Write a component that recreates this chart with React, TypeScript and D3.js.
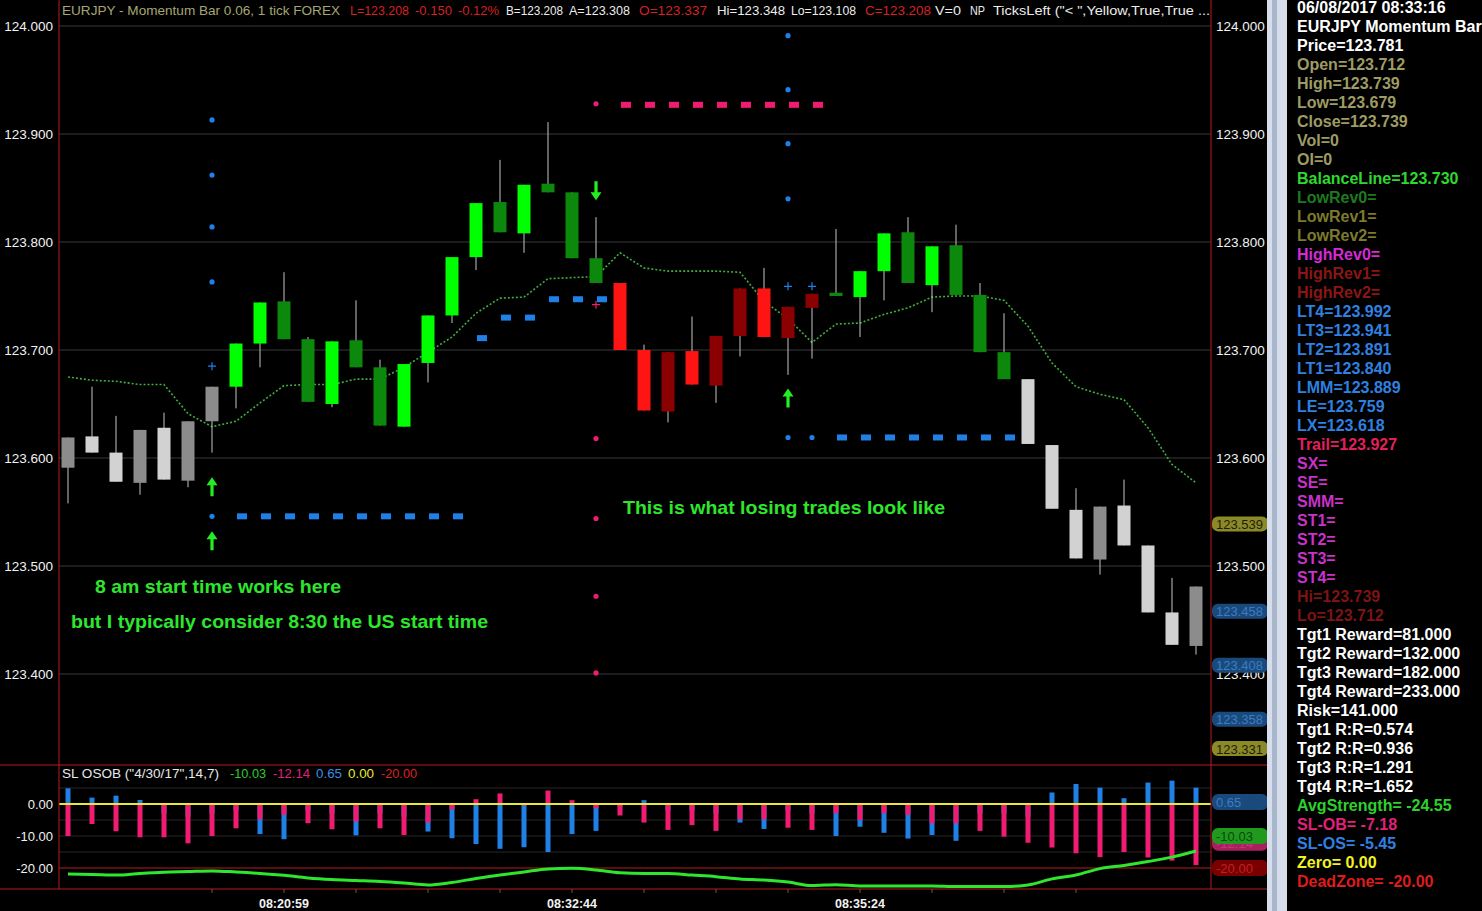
import React from "react";
import * as d3 from "d3";

// ---------------- data ----------------
const candleOpen = [123.591, 123.620, 123.605, 123.577, 123.628, 123.579, 123.634, 123.666, 123.706, 123.745, 123.710, 123.650, 123.709, 123.684, 123.629, 123.688, 123.732, 123.786, 123.837, 123.808, 123.854, 123.846, 123.785, 123.762, 123.700, 123.643, 123.699, 123.667, 123.713, 123.757, 123.711, 123.739, 123.753, 123.749, 123.773, 123.809, 123.760, 123.797, 123.751, 123.698, 123.673, 123.612, 123.552, 123.506, 123.556, 123.519, 123.457, 123.426];
const candleHigh = [123.619, 123.666, 123.639, 123.626, 123.642, 123.634, 123.666, 123.706, 123.744, 123.772, 123.712, 123.708, 123.746, 123.691, 123.687, 123.732, 123.786, 123.836, 123.876, 123.853, 123.911, 123.846, 123.823, 123.762, 123.705, 123.698, 123.731, 123.713, 123.757, 123.776, 123.740, 123.752, 123.812, 123.773, 123.808, 123.823, 123.796, 123.816, 123.762, 123.734, 123.673, 123.612, 123.572, 123.555, 123.580, 123.519, 123.489, 123.481];
const candleLow = [123.558, 123.605, 123.578, 123.566, 123.580, 123.573, 123.605, 123.646, 123.684, 123.710, 123.652, 123.647, 123.684, 123.630, 123.629, 123.670, 123.725, 123.774, 123.809, 123.790, 123.846, 123.785, 123.762, 123.700, 123.644, 123.633, 123.668, 123.651, 123.694, 123.712, 123.677, 123.692, 123.750, 123.712, 123.746, 123.762, 123.735, 123.751, 123.698, 123.673, 123.613, 123.553, 123.507, 123.492, 123.519, 123.457, 123.427, 123.418];
const candleClose = [123.619, 123.605, 123.578, 123.626, 123.580, 123.634, 123.666, 123.706, 123.744, 123.710, 123.652, 123.708, 123.684, 123.630, 123.687, 123.732, 123.786, 123.836, 123.809, 123.853, 123.846, 123.785, 123.762, 123.700, 123.644, 123.698, 123.668, 123.713, 123.757, 123.712, 123.740, 123.752, 123.750, 123.773, 123.808, 123.762, 123.796, 123.751, 123.698, 123.673, 123.613, 123.553, 123.507, 123.555, 123.519, 123.457, 123.427, 123.481];
const candleTrend = ["gray", "gray", "gray", "gray", "gray", "gray", "gray", "green", "green", "green", "green", "green", "green", "green", "green", "green", "green", "green", "green", "green", "green", "green", "green", "red", "red", "red", "red", "red", "red", "red", "red", "red", "green", "green", "green", "green", "green", "green", "green", "green", "gray", "gray", "gray", "gray", "gray", "gray", "gray", "gray"];

const balanceLine = [123.675, 123.672, 123.671, 123.668, 123.668, 123.641, 123.629, 123.634, 123.651, 123.667, 123.668, 123.668, 123.673, 123.673, 123.684, 123.698, 123.712, 123.734, 123.748, 123.749, 123.766, 123.767, 123.768, 123.790, 123.776, 123.773, 123.773, 123.773, 123.772, 123.745, 123.729, 123.707, 123.724, 123.725, 123.733, 123.739, 123.749, 123.750, 123.750, 123.746, 123.722, 123.688, 123.666, 123.659, 123.654, 123.628, 123.594, 123.577];

const slOB = [-10.0, -6.25, -8.5, -10.4, -10.4, -12.3, -10.0, -7.6, -4.8, -3.4, -6.0, -7.9, -5.5, -7.6, -9.7, -5.8, -1.7, 1.5, 3.3, -0.5, 4.2, 1.2, -1.3, -3.6, -5.8, -8.1, -6.6, -8.4, -4.8, -4.8, -7.4, -8.1, -2.9, -5.0, -2.9, -3.4, -6.0, -6.0, -8.4, -10.2, -12.1, -13.6, -15.4, -16.6, -15.0, -16.7, -17.7, -19.1];
const slOS = [4.9, 2.0, 2.6, 1.25, -3, -4, -3, -2, -9.4, -11.0, -2, -3, -9.8, -3, -4, -8.6, -10.7, -12.5, -14.0, -13.5, -15.0, -9.4, -8.4, -1, 1.2, -2, -2, -3, -5.8, -7.8, -2, -3, -10.0, -7.1, -9.0, -10.8, -9.7, -11.5, -3, -3, -4, 3.6, 6.25, 5.1, 1.8, 6.7, 7.3, 5.1];
const avgStrength = [-21.9, -22.0, -22.2, -21.7, -21.3, -21.1, -20.9, -21.25, -21.7, -22.3, -23.1, -23.6, -23.9, -24.2, -24.7, -25.3, -24.5, -23.3, -22.2, -21.25, -20.3, -20.1, -20.6, -21.5, -21.7, -21.7, -22.2, -22.7, -23.4, -23.75, -24.4, -25.5, -25.2, -25.6, -25.6, -25.6, -25.6, -25.8, -25.8, -25.8, -25.3, -23.4, -22.2, -20.2, -19.2, -18.0, -16.6, -14.7];

const priceTicks = [124.0, 123.9, 123.8, 123.7, 123.6, 123.5, 123.4];
const oscTicks = [0, -10, -20];
const oscGrid = [5, -5, -10, -15];
const timeTickIdx = [6, 9, 12, 15, 18, 21, 24, 27, 30, 33, 36, 39, 42];
const timeLabelIdx = [9, 21, 33];
const timeLabels = ["08:20:59", "08:32:44", "08:35:24"];

const longTargetIdx = [6, 6, 6, 6, 30, 30, 30, 30];
const longTargetPrice = [123.913, 123.862, 123.814, 123.763, 123.991, 123.941, 123.891, 123.840];
const longEntryIdx = [6, 30, 31];
const longEntryPrice = [123.685, 123.759, 123.759];
const longStopDotIdx = [6, 30, 31];
const longStopDotPrice = [123.546, 123.619, 123.619];
const longStopDashIdx = [7, 8, 9, 10, 11, 12, 13, 14, 15, 16, 17, 18, 19, 20, 21, 22, 32, 33, 34, 35, 36, 37, 38, 39];
const longStopDashPrice = [123.546, 123.546, 123.546, 123.546, 123.546, 123.546, 123.546, 123.546, 123.546, 123.546, 123.711, 123.730, 123.730, 123.747, 123.747, 123.747, 123.619, 123.619, 123.619, 123.619, 123.619, 123.619, 123.619, 123.619];
const shortDotIdx = [22, 22, 22, 22, 22];
const shortDotPrice = [123.928, 123.618, 123.544, 123.472, 123.401];
const shortEntryIdx = [22];
const shortEntryPrice = [123.742];
const shortTrailIdx = [23, 24, 25, 26, 27, 28, 29, 30, 31];
const shortTrailPrice = [123.927, 123.927, 123.927, 123.927, 123.927, 123.927, 123.927, 123.927, 123.927];
const upArrowIdx = [6, 6, 30];
const upArrowPrice = [123.573, 123.523, 123.655];
const downArrowIdx = [22];
const downArrowPrice = [123.848];

const noteText = ["8 am start time works here", "but I typically consider 8:30 the US start time", "This is what losing trades look like"];
const noteIdx = [1.125, 0.125, 23.125];
const notePrice = [123.475, 123.443, 123.548];
const noteWidth = [246, 417, 322];

const priceTagValue = [123.539, 123.458, 123.408, 123.358, 123.331];
const priceTagKind = ["olive", "blue", "blue", "blue", "olive"];
const oscTagValue = [0.65, -12.14, -10.03, -20.0];
const oscTagKind = ["blue", "pink", "green", "red"];

const headerText = ["EURJPY - Momentum Bar 0.06, 1 tick  FOREX", "L=123.208", "-0.150", "-0.12%", "B=123.208", "A=123.308", "O=123.337", "Hi=123.348", "Lo=123.108", "C=123.208", "V=0", "NP", "TicksLeft (\"< \",Yellow,True,True ..."];
const headerX = [62, 350, 415, 458, 506, 569, 639, 717, 791, 865, 935, 970, 993];
const headerW = [278, 59, 37, 41, 57, 61, 68, 68, 65, 66, 26, 15, 217];
const headerColor = ["#a6a672", "#d42222", "#d42222", "#d42222", "#ececec", "#ececec", "#d42222", "#ececec", "#ececec", "#d42222", "#ececec", "#ececec", "#ececec"];

const oscTitle = ["SL  OSOB (\"4/30/17\",14,7)", "-10.03", "-12.14", "0.65", "0.00", "-20.00"];
const oscTitleX = [62, 230, 273, 316, 348, 381];
const oscTitleW = [157, 36, 37, 26, 26, 36];
const oscTitleColor = ["#e8e8e8", "#2ecc2e", "#e0207a", "#3a8ee0", "#e8e830", "#dd2020"];

const infoText = [
  "06/08/2017 08:33:16", "EURJPY Momentum Bar", "Price=123.781", "Open=123.712", "High=123.739", "Low=123.679", "Close=123.739", "Vol=0", "OI=0",
  "BalanceLine=123.730", "LowRev0=", "LowRev1=", "LowRev2=", "HighRev0=", "HighRev1=", "HighRev2=",
  "LT4=123.992", "LT3=123.941", "LT2=123.891", "LT1=123.840", "LMM=123.889", "LE=123.759", "LX=123.618", "Trail=123.927",
  "SX=", "SE=", "SMM=", "ST1=", "ST2=", "ST3=", "ST4=", "Hi=123.739", "Lo=123.712",
  "Tgt1 Reward=81.000", "Tgt2 Reward=132.000", "Tgt3 Reward=182.000", "Tgt4 Reward=233.000", "Risk=141.000",
  "Tgt1 R:R=0.574", "Tgt2 R:R=0.936", "Tgt3 R:R=1.291", "Tgt4 R:R=1.652",
  "AvgStrength= -24.55", "SL-OB= -7.18", "SL-OS= -5.45", "Zero= 0.00", "DeadZone= -20.00",
];
const infoColor = [
  "#ffffff", "#ffffff", "#ffffff", "#9e9c64", "#9e9c64", "#9e9c64", "#9e9c64", "#9e9c64", "#9e9c64",
  "#2ed82e", "#1f7a1f", "#7e7a2c", "#7e7a2c", "#d62ad6", "#8a1616", "#8a1616",
  "#2f80e0", "#2f80e0", "#2f80e0", "#2f80e0", "#2f80e0", "#2f80e0", "#2f80e0", "#e0205a",
  "#c832c8", "#c832c8", "#c832c8", "#c832c8", "#c832c8", "#c832c8", "#c832c8", "#7c1414", "#7c1414",
  "#ffffff", "#ffffff", "#ffffff", "#ffffff", "#ffffff",
  "#ffffff", "#ffffff", "#ffffff", "#ffffff",
  "#2ed02e", "#e0207a", "#2f80e0", "#f2f222", "#dd1c1c",
];

// ---------------- styles ----------------
const FONT = "'Liberation Sans', Arial, sans-serif";
const RED = "#b81a1a";
const BLUE = "#1f80e8";
const PINK = "#f01c72";
const ARROW = "#22ee22";
const candleColors: Record<string, [string, string]> = {
  gray: ["#8c8c8c", "#d2d2d2"],
  green: ["#00ff00", "#0c880c"],
  red: ["#8b0000", "#ff1414"],
};
const tagColors: Record<string, [string, string]> = {
  olive: ["#8c8a28", "#1e1e08"],
  blue: ["#1a4a7c", "#3b7cc4"],
  green: ["#1f9a1f", "#0a4a0a"],
  pink: ["#a8205f", "#c83080"],
  red: ["#7a0000", "#c02020"],
};

export default function App() {
  const n = candleOpen.length;
  const x = d3.scaleLinear().domain([-0.5, n - 0.5]).range([56, 56 + 24 * n]);
  const y = d3.scaleLinear().domain([123.4, 124.0]).range([674, 26]);
  const yi = d3.scaleLinear().domain([-20, 0]).range([868, 804]);
  const bodyW = 13;

  const balancePath = d3
    .line<number>()
    .x((_, i) => x(i))
    .y((d) => y(d))(balanceLine) || "";
  const avgPath = d3
    .line<number>()
    .x((_, i) => x(i))
    .y((d) => yi(d))
    .curve(d3.curveMonotoneX)(avgStrength) || "";

  const plotL = 59;
  const plotR = 1211;

  const upArrow = (cx: number, cy: number) =>
    `M${cx},${cy - 10} L${cx + 5.5},${cy - 2} L${cx + 1.6},${cy - 2} L${cx + 1.6},${cy + 9} L${cx - 1.6},${cy + 9} L${cx - 1.6},${cy - 2} L${cx - 5.5},${cy - 2} Z`;
  const downArrow = (cx: number, cy: number) =>
    `M${cx},${cy + 10} L${cx + 5.5},${cy + 2} L${cx + 1.6},${cy + 2} L${cx + 1.6},${cy - 9} L${cx - 1.6},${cy - 9} L${cx - 1.6},${cy + 2} L${cx - 5.5},${cy + 2} Z`;

  return (
    <div style={{ position: "absolute", left: 0, top: 0 }}>
      <svg width={1482} height={911} style={{ display: "block", background: "#000" }} fontFamily={FONT}>
        <rect x={0} y={0} width={1482} height={911} fill="#000" />

        {/* main grid */}
        {priceTicks.map((t) => (
          <line key={"g" + t} x1={plotL} x2={plotR} y1={y(t)} y2={y(t)} stroke="#383838" strokeWidth={1} />
        ))}

        {/* header */}
        {headerText.map((t, i) => (
          <text key={"h" + i} x={headerX[i]} y={15} fill={headerColor[i]} fontSize={13.5}
            textLength={headerW[i]} lengthAdjust="spacingAndGlyphs">{t}</text>
        ))}

        {/* balance line */}
        <path d={balancePath} fill="none" stroke="#3fae3f" strokeWidth={1.6} strokeDasharray="2,2" />

        {/* candles */}
        {candleOpen.map((o, i) => {
          const c = candleClose[i];
          const up = c > o;
          const col = candleColors[candleTrend[i]][up ? 0 : 1];
          const top = y(Math.max(o, c));
          const bot = y(Math.min(o, c));
          return (
            <g key={"c" + i}>
              <line x1={x(i)} x2={x(i)} y1={y(candleHigh[i])} y2={y(candleLow[i])} stroke="#c4c4c4" strokeWidth={1} />
              <rect x={x(i) - bodyW / 2} y={top} width={bodyW} height={Math.max(2, bot - top)} fill={col} />
            </g>
          );
        })}

        {/* trade markers */}
        {longStopDashIdx.map((k, i) => (
          <rect key={"lsd" + i} x={x(k) + 1} y={y(longStopDashPrice[i]) - 3} width={10} height={6} fill={BLUE} />
        ))}
        {shortTrailIdx.map((k, i) => (
          <rect key={"st" + i} x={x(k) + 1} y={y(shortTrailPrice[i]) - 3} width={10} height={6} fill={PINK} />
        ))}
        {longTargetIdx.map((k, i) => (
          <circle key={"lt" + i} cx={x(k)} cy={y(longTargetPrice[i])} r={2.6} fill={BLUE} />
        ))}
        {longStopDotIdx.map((k, i) => (
          <circle key={"ls" + i} cx={x(k)} cy={y(longStopDotPrice[i])} r={2.6} fill={BLUE} />
        ))}
        {shortDotIdx.map((k, i) => (
          <circle key={"sd" + i} cx={x(k)} cy={y(shortDotPrice[i])} r={2.6} fill={PINK} />
        ))}
        {longEntryIdx.map((k, i) => (
          <path key={"le" + i} d={`M${x(k) - 4},${y(longEntryPrice[i])} h8 M${x(k)},${y(longEntryPrice[i]) - 4} v8`} stroke={BLUE} strokeWidth={1.2} />
        ))}
        {shortEntryIdx.map((k, i) => (
          <path key={"se" + i} d={`M${x(k) - 4},${y(shortEntryPrice[i])} h8 M${x(k)},${y(shortEntryPrice[i]) - 4} v8`} stroke={PINK} strokeWidth={1.2} />
        ))}
        {upArrowIdx.map((k, i) => (
          <path key={"ua" + i} d={upArrow(x(k), y(upArrowPrice[i]))} fill={ARROW} />
        ))}
        {downArrowIdx.map((k, i) => (
          <path key={"da" + i} d={downArrow(x(k), y(downArrowPrice[i]))} fill={ARROW} />
        ))}

        {/* notes */}
        {noteText.map((t, i) => (
          <text key={"n" + i} x={x(noteIdx[i])} y={y(notePrice[i])} fill="#2ee62e" fontSize={18.5} fontWeight="bold"
            textLength={noteWidth[i]} lengthAdjust="spacingAndGlyphs">{t}</text>
        ))}

        {/* price axis labels */}
        {priceTicks.map((t) => (
          <g key={"pl" + t}>
            <text x={53} y={y(t) + 5} fill="#f2f2f2" fontSize={13.5} textAnchor="end">{t.toFixed(3)}</text>
            <text x={1216} y={y(t) + 5} fill="#f2f2f2" fontSize={13.5}>{t.toFixed(3)}</text>
          </g>
        ))}
        {priceTagValue.map((v, i) => {
          const [bg, fg] = tagColors[priceTagKind[i]];
          return (
            <g key={"pt" + i}>
              <rect x={1212} y={y(v) - 7.5} width={56} height={15} rx={6} fill={bg} />
              <text x={1216} y={y(v) + 5} fill={fg} fontSize={13}>{v.toFixed(3)}</text>
            </g>
          );
        })}

        {/* oscillator panel */}
        {oscGrid.map((t) => (
          <line key={"og" + t} x1={plotL} x2={plotR} y1={yi(t)} y2={yi(t)} stroke="#262626" strokeWidth={1} />
        ))}
        {oscTitle.map((t, i) => (
          <text key={"ot" + i} x={oscTitleX[i]} y={778} fill={oscTitleColor[i]} fontSize={13.5}
            textLength={oscTitleW[i]} lengthAdjust="spacingAndGlyphs">{t}</text>
        ))}
        {slOS.map((v, i) => (
          <rect key={"os" + i} x={x(i) - 2.5} y={Math.min(yi(v), yi(0))} width={5} height={Math.abs(yi(v) - yi(0))} fill={BLUE} />
        ))}
        {slOB.map((v, i) => (
          <rect key={"ob" + i} x={x(i) - 2.5} y={Math.min(yi(v), yi(0))} width={5} height={Math.abs(yi(v) - yi(0))} fill={PINK} />
        ))}
        <line x1={plotL} x2={plotR} y1={yi(0)} y2={yi(0)} stroke="#e8e832" strokeWidth={2} />
        <line x1={plotL} x2={plotR} y1={yi(-20)} y2={yi(-20)} stroke={RED} strokeWidth={1} />
        <path d={avgPath} fill="none" stroke="#2ee62e" strokeWidth={3} />
        {oscTicks.map((t) => (
          <text key={"ol" + t} x={53} y={yi(t) + 5} fill="#f2f2f2" fontSize={13} textAnchor="end">{t.toFixed(2)}</text>
        ))}
        {oscTagValue.map((v, i) => {
          const [bg, fg] = tagColors[oscTagKind[i]];
          return (
            <g key={"otg" + i}>
              <rect x={1212} y={yi(v) - 8} width={56} height={16} rx={6} fill={bg} />
              <text x={1216} y={yi(v) + 5} fill={fg} fontSize={13}>{v.toFixed(2)}</text>
            </g>
          );
        })}

        {/* frame lines */}
        <line x1={0} x2={1268} y1={765} y2={765} stroke={RED} strokeWidth={1} />
        <line x1={0} x2={1268} y1={889} y2={889} stroke={RED} strokeWidth={1} />
        <line x1={plotL} x2={plotL} y1={0} y2={889} stroke={RED} strokeWidth={1} />
        <line x1={plotR} x2={plotR} y1={0} y2={889} stroke={RED} strokeWidth={1} />

        {/* time axis */}
        {timeTickIdx.map((k) => (
          <line key={"tt" + k} x1={x(k)} x2={x(k)} y1={889} y2={893} stroke="#7a5050" strokeWidth={1} />
        ))}
        {timeLabelIdx.map((k, i) => (
          <text key={"tl" + k} x={x(k)} y={908} fill="#f2f2f2" fontSize={12.5} fontWeight="bold" textAnchor="middle">{timeLabels[i]}</text>
        ))}

        {/* info panel */}
        <rect x={1267} y={0} width={20} height={911} fill="#d6deec" />
        <rect x={1272} y={0} width={5} height={911} fill="#a9b5cb" />
        {infoText.map((t, i) => (
          <text key={"i" + i} x={1297} y={12.5 + 19 * i} fill={infoColor[i]} fontSize={16} fontWeight="bold">{t}</text>
        ))}
      </svg>
    </div>
  );
}
